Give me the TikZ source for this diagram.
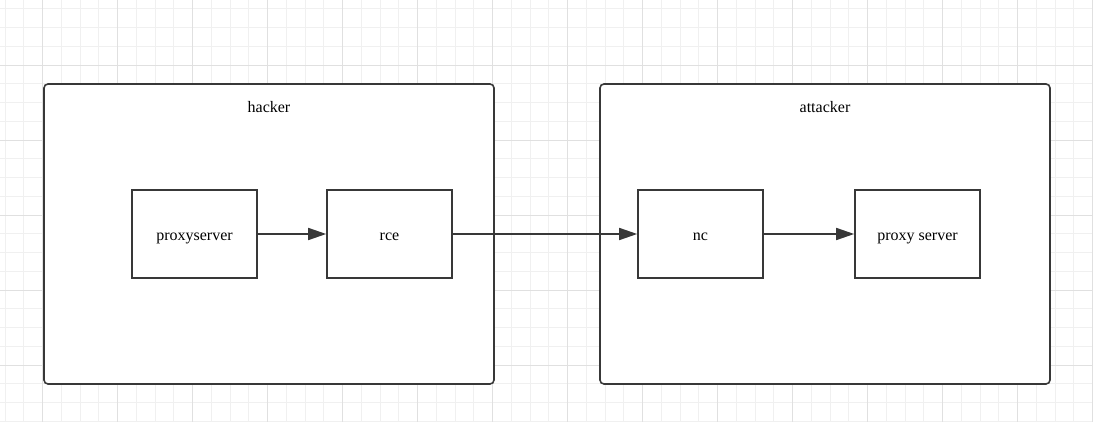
\documentclass[tikz,border=0pt]{standalone}
\usepackage{fontspec}
\setmainfont{Liberation Serif}
\usetikzlibrary{arrows.meta}

\begin{document}
\begin{tikzpicture}[x=1pt,y=-1pt,
  box/.style={draw=black!78, line width=1.6pt, minimum width=125pt, minimum height=88pt, inner sep=0pt, text height=13pt, text depth=0pt, fill=white},
  group/.style={draw=black!78, line width=1.6pt, rounded corners=4pt, minimum width=450pt, minimum height=300pt, inner sep=0pt, fill=white},
  link/.style={draw=black!78, line width=1.6pt, -{Triangle[length=18pt,width=12pt]}},
  font=\fontsize{16}{19}\selectfont]
  \useasboundingbox (0,0) rectangle (1093,422);
  % grid
  \foreach \x in {5,23.75,...,1093} \draw[black!6, line width=0.8pt] (\x,0) -- (\x,422);
  \foreach \y in {8.75,27.5,...,422} \draw[black!6, line width=0.8pt] (0,\y) -- (1093,\y);
  \foreach \x in {42.5,117.5,...,1093} \draw[black!12, line width=0.8pt] (\x,0) -- (\x,422);
  \foreach \y in {65,140,...,422} \draw[black!12, line width=0.8pt] (0,\y) -- (1093,\y);
  % groups
  \node[group] (hacker) at (269,234) {};
  \node[group] (attacker) at (825,234) {};
  \node[anchor=base] (hackerlabel) at (269,113) {hacker};
  \node[anchor=base] (attackerlabel) at (825,113) {attacker};
  % boxes
  \node[box] (proxyserver) at (194.5,234) {proxyserver};
  \node[box] (rce) at (389.5,234) {rce};
  \node[box] (nc) at (700.5,234) {nc};
  \node[box] (proxy) at (917.5,234) {proxy server};
  % links
  \draw[link] (proxyserver) -- (rce);
  \draw[link] (rce) -- (nc);
  \draw[link] (nc) -- (proxy);
\end{tikzpicture}
\end{document}
